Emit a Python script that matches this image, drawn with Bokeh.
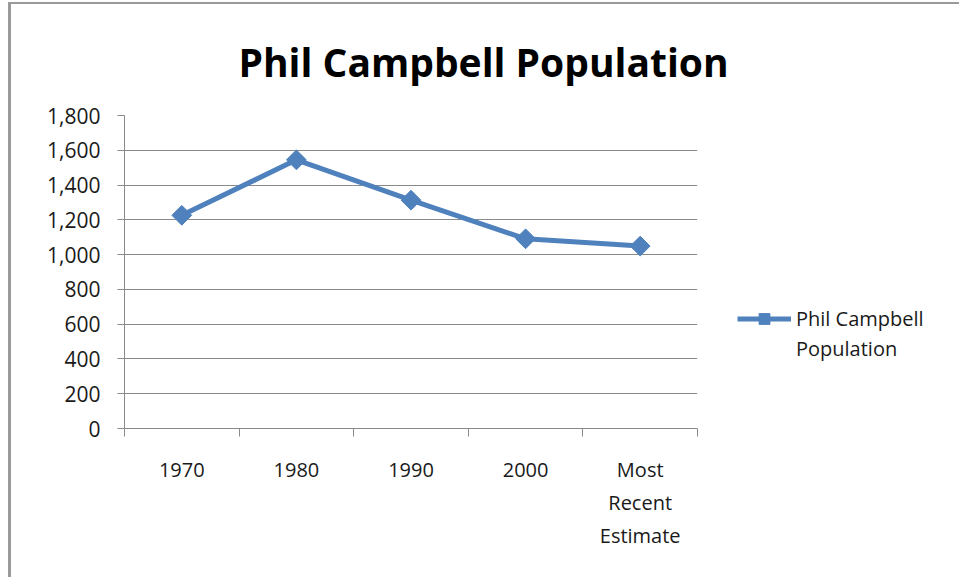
from bokeh.plotting import figure
from bokeh.layouts import row
from bokeh.models import (Range1d, FactorRange, LinearAxis, CategoricalAxis, FixedTicker,
                          NumeralTickFormatter, Legend, LegendItem, CustomJSTickFormatter)
from bokeh.embed import file_html
from bokeh.resources import INLINE

categories = ["1970", "1980", "1990", "2000", "Most Recent Estimate"]
population = [1226, 1545, 1313, 1091, 1049]
y_ticks = [0, 200, 400, 600, 800, 1000, 1200, 1400, 1600, 1800]
legend_lines = ["Phil Campbell", "Population"]

BLUE = "#4F81BD"
GRID = "#8A8A8A"
FONT = "Open Sans"
TXT = "#1a1a1a"

p = figure(width=726, height=573, output_backend="svg", toolbar_location=None,
           x_range=FactorRange(*categories, range_padding=0), y_range=Range1d(0, 1800),
           x_axis_location=None, y_axis_location=None,
           min_border_left=113, min_border_right=40, min_border_top=110, min_border_bottom=149)
p.outline_line_color = None
p.background_fill_color = "white"
p.border_fill_color = "white"

# title
p.title.text = "Phil Campbell Population"
p.title.text_font = FONT
p.title.text_font_style = "bold"
p.title.text_font_size = "39px"
p.title.text_color = "#000000"
p.title.align = "left"
p.title.offset = 114
p.title.standoff = 56

# y axis
yax = LinearAxis(ticker=FixedTicker(ticks=y_ticks), formatter=NumeralTickFormatter(format="0,0"))
yax.axis_line_color = GRID
yax.major_tick_line_color = GRID
yax.major_tick_out = 7
yax.major_tick_in = 0
yax.minor_tick_line_color = None
yax.major_label_text_font = FONT
yax.major_label_text_font_size = "21px"
yax.major_label_text_color = TXT
yax.major_label_standoff = 17
p.add_layout(yax, "left")

# x tick marks at category boundaries (synthetic coordinates of the factor range)
boundaries = list(range(len(categories) + 1))
tax = LinearAxis(ticker=FixedTicker(ticks=boundaries))
tax.axis_line_color = GRID
tax.major_tick_line_color = GRID
tax.major_tick_out = 8
tax.major_tick_in = 0
tax.minor_tick_line_color = None
tax.major_label_text_font_size = "0px"
tax.major_label_text_color = None
tax.major_label_standoff = 0
p.add_layout(tax, "below")

# category labels, long ones wrapped word by word
xax = CategoricalAxis(formatter=CustomJSTickFormatter(code=r'return tick.split(" ").join("\n")'))
xax.axis_line_color = None
xax.major_tick_line_color = None
xax.major_tick_out = 0
xax.major_tick_in = 0
xax.major_label_text_font = FONT
xax.major_label_text_font_size = "20px"
xax.major_label_text_color = TXT
xax.major_label_text_line_height = 1.23
xax.major_label_standoff = 19
p.add_layout(xax, "below")

p.ygrid.ticker = FixedTicker(ticks=y_ticks)
p.ygrid.grid_line_color = GRID
p.ygrid.grid_line_width = 1
p.xgrid.grid_line_color = None

p.line(categories, population, line_color=BLUE, line_width=5)
p.scatter(categories, population, marker="square", angle=0.785398, size=14,
          fill_color=BLUE, line_color=BLUE)

# legend panel to the right (its series renderers fall outside its own view)
p2 = figure(width=222, height=573, output_backend="svg", toolbar_location=None,
            x_range=FactorRange(*categories), y_range=Range1d(0, 1),
            x_axis_location=None, y_axis_location=None, min_border=0)
p2.outline_line_color = None
p2.grid.visible = False
p2.background_fill_color = "white"
p2.border_fill_color = "white"
l_line = p2.line(categories, population, line_color=BLUE, line_width=5)
l_mark = p2.scatter(categories, population, marker="square", angle=0.785398, size=14,
                    fill_color=BLUE, line_color=BLUE)
l_none = p2.line(categories, population, line_alpha=0)

legend = Legend(items=[LegendItem(label=legend_lines[0], renderers=[l_line, l_mark]),
                       LegendItem(label=legend_lines[1], renderers=[l_none])],
                location=(0, 66))
legend.border_line_color = None
legend.background_fill_alpha = 0
legend.padding = 0
legend.margin = 0
legend.spacing = 3
legend.glyph_width = 54
legend.glyph_height = 27
legend.label_standoff = 5
legend.label_text_font = FONT
legend.label_text_font_size = "20px"
legend.label_text_color = TXT
p2.add_layout(legend, "center")

layout = row(p, p2, styles={"margin-left": "8px", "margin-top": "2px",
                            "border-left": "3px solid #9A9A9A", "border-top": "2px solid #9A9A9A"})

open("out.html", "w").write(file_html(layout, INLINE))
